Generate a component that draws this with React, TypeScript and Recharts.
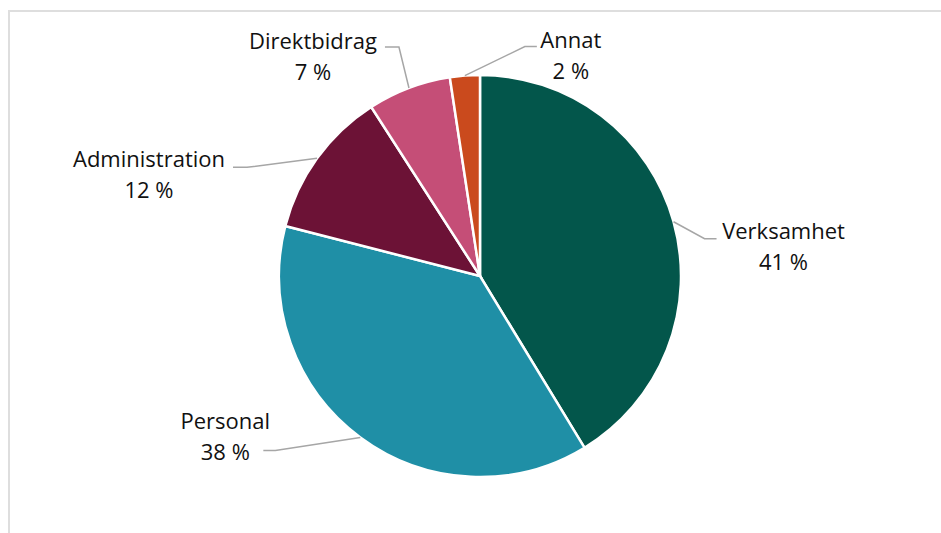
import { PieChart, Pie, Cell } from "recharts";

const categories = ["Verksamhet", "Personal", "Administration", "Direktbidrag", "Annat"];
const shares = [41.3, 37.7, 11.9, 6.7, 2.4];
const colors = ["#03564B", "#1F8FA6", "#6C1236", "#C54E77", "#CA4A1D"];

const data = categories.map((name, i) => ({ name, value: shares[i] }));

// label layout, offsets relative to the point where the slice's mid angle meets the rim
const labelLayout: Record<string, { elbow: [number, number]; endX: number; textX: number; textY: number }> = {
  Verksamhet: { elbow: [31, 17], endX: 43, textX: 110, textY: 17 },
  Personal: { elbow: [-85, 13], endX: -97, textX: -135, textY: -8 },
  Administration: { elbow: [-70, 9], endX: -84, textX: -168, textY: 9 },
  Direktbidrag: { elbow: [-10, -41], endX: -24, textX: -96, textY: -39 },
  Annat: { elbow: [60, -29], endX: 72, textX: 106, textY: -28 },
};

const RAD = Math.PI / 180;
const FONT = "'Open Sans', 'Noto Sans', sans-serif";

function renderLabel(props: any) {
  const { cx, cy, midAngle, outerRadius, name, percent } = props;
  const lay = labelLayout[name];
  if (!lay) return null;
  const x0 = cx + outerRadius * Math.cos(-midAngle * RAD);
  const y0 = cy + outerRadius * Math.sin(-midAngle * RAD);
  const ex = x0 + lay.elbow[0];
  const ey = y0 + lay.elbow[1];
  const tx = x0 + lay.textX;
  const ty = y0 + lay.textY;
  return (
    <g>
      <path
        d={`M${x0},${y0} L${ex},${ey} L${x0 + lay.endX},${ey}`}
        stroke="#a6a6a6"
        strokeWidth={1.5}
        fill="none"
      />
      <text x={tx} y={ty} textAnchor="middle" fontFamily={FONT} fontSize={22} fill="#111">
        {name}
      </text>
      <text x={tx} y={ty + 31} textAnchor="middle" fontFamily={FONT} fontSize={22} fill="#111">
        {`${Math.round(percent * 100)} %`}
      </text>
    </g>
  );
}

export default function App() {
  return (
    <div
      style={{
        position: "absolute",
        left: 0,
        top: 0,
        width: 941,
        height: 533,
        overflow: "hidden",
        background: "#fff",
      }}
    >
      <div
        style={{
          position: "absolute",
          left: 8,
          top: 10,
          width: 1000,
          height: 600,
          borderTop: "2px solid #dedede",
          borderLeft: "2px solid #dedede",
        }}
      />
      <div style={{ position: "absolute", left: 0, top: 0 }}>
        <PieChart width={941} height={533} margin={{ top: 0, right: 0, bottom: 0, left: 0 }}>
          <Pie
            data={data}
            dataKey="value"
            nameKey="name"
            cx={480}
            cy={276}
            outerRadius={201}
            startAngle={90}
            endAngle={-270}
            stroke="#fff"
            strokeWidth={2.5}
            label={renderLabel}
            labelLine={false}
            isAnimationActive={false}
          >
            {data.map((d, i) => (
              <Cell key={d.name} fill={colors[i]} />
            ))}
          </Pie>
        </PieChart>
      </div>
    </div>
  );
}
